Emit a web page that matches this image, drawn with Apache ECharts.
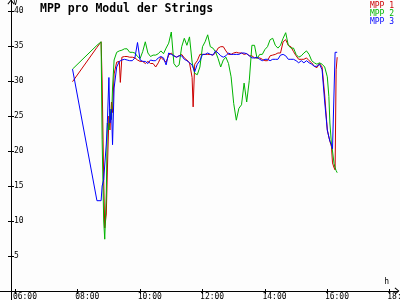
<!DOCTYPE html>
<html>
<head>
<meta charset="utf-8">
<script src="https://cdn.jsdelivr.net/npm/echarts@6/dist/echarts.min.js"></script>
<style>
html,body{margin:0;padding:0;background:#fdfdfd;}
#chart{width:400px;height:300px;}
</style>
</head>
<body>
<div id="chart"></div>
<script>
const times = ["07:50","08:37","08:45","08:47","08:50","08:52","08:55","08:57","09:00","09:02","09:05","09:07","09:10","09:15","09:20","09:22","09:25","09:30","09:35","09:40","09:45","09:50","09:55","10:00","10:05","10:10","10:15","10:20","10:25","10:30","10:35","10:40","10:45","10:50","10:55","11:00","11:05","11:10","11:15","11:20","11:25","11:30","11:35","11:40","11:42","11:45","11:50","11:55","12:00","12:05","12:10","12:15","12:20","12:25","12:30","12:35","12:40","12:45","12:50","12:55","13:00","13:05","13:10","13:15","13:20","13:25","13:30","13:35","13:40","13:45","13:50","13:55","14:00","14:05","14:10","14:15","14:20","14:25","14:30","14:35","14:40","14:45","14:50","14:55","15:00","15:05","15:10","15:15","15:20","15:25","15:30","15:35","15:40","15:45","15:50","15:55","16:00","16:03","16:05","16:08","16:10","16:13","16:15","16:17","16:19"];
const mpp1 = [29.9,34.8,35.6,30.0,16.0,9.0,11.0,17.0,25.0,23.0,27.0,25.5,31.0,32.7,32.8,29.8,33.4,33.5,33.5,33.4,33.4,33.3,33.0,32.8,32.8,32.5,32.8,32.5,32.5,32.0,32.6,33.4,33.0,32.7,33.7,34.0,33.6,33.4,33.6,33.8,33.3,33.0,32.6,30.5,26.3,32.4,32.9,33.8,33.8,33.8,33.8,33.8,33.7,34.0,34.7,34.9,34.9,34.3,33.8,33.8,34.0,34.1,34.0,34.0,33.8,33.9,33.6,33.6,33.3,33.3,33.3,33.1,32.9,32.9,33.6,33.7,33.8,34.0,34.0,35.6,35.9,35.1,34.9,34.2,33.6,33.1,33.1,33.1,33.3,32.9,32.6,32.1,31.9,32.5,32.0,28.0,23.0,22.0,21.4,20.6,18.3,17.6,17.3,31.6,33.4];
const mpp2 = [31.7,35.1,35.6,21.6,10.0,7.4,14.0,24.0,23.0,26.0,24.5,29.0,33.0,34.1,34.3,34.4,34.4,34.6,34.6,34.1,34.1,34.0,33.5,33.2,34.2,35.6,34.0,33.5,33.7,33.7,33.9,34.3,33.9,34.7,35.4,37.0,32.5,32.0,32.3,34.9,36.1,35.1,36.3,32.7,32.0,31.1,30.9,32.0,34.9,35.6,36.6,34.9,34.7,34.2,33.2,32.0,33.0,33.4,32.5,30.6,26.8,24.4,26.1,26.6,29.7,27.0,30.1,35.1,35.1,33.2,33.8,33.8,34.5,34.9,35.9,36.1,35.1,34.7,35.1,36.1,36.9,35.1,34.7,34.7,33.8,33.4,33.6,34.0,34.3,33.8,32.9,32.6,32.4,32.6,32.4,32.0,30.6,27.8,24.0,21.0,20.0,18.2,17.6,17.2,16.9];
const mpp3 = [31.7,12.9,12.9,15.0,15.9,18.0,21.0,24.0,30.5,24.0,26.0,20.9,29.0,32.0,32.8,33.0,33.0,33.1,33.0,32.9,32.9,33.3,35.5,33.0,32.8,32.8,32.5,33.0,32.9,32.9,33.3,33.5,33.3,32.3,34.0,33.8,33.6,33.4,33.6,33.6,33.1,32.9,32.6,32.3,32.4,31.3,32.4,32.9,33.8,33.8,34.0,33.8,33.7,34.3,34.0,33.6,33.4,33.6,34.0,33.8,33.8,33.8,33.8,34.0,34.0,33.9,33.6,33.3,33.3,33.4,33.1,32.9,33.1,33.1,32.9,33.1,33.1,33.1,33.7,33.8,33.6,33.1,33.1,33.1,32.9,32.6,32.9,32.6,32.9,32.6,32.4,32.1,32.1,32.4,31.6,27.0,23.0,22.0,21.4,20.9,20.3,20.5,34.1,34.1,34.1];
const seriesNames = ["MPP 1","MPP 2","MPP 3"];
const xTickHours = [6,8,10,12,14,16,18];
const yTickValues = [5,10,15,20,25,30,35,40];

const colors = ["#cc0000","#00b400","#0000ff"];
const mono = "DejaVu Sans Mono";
const toHours = s => { const p = s.split(":").map(Number); return p[0] + p[1] / 60; };
const pairs = arr => times.map((t, i) => [toHours(t), arr[i]]);
const chevron = "path://M5,0 L10,6 L9,7 L5,2 L1,7 L0,6 Z";

const chart = echarts.init(document.getElementById("chart"), null, {renderer: "canvas"});
const xMin = 6 - 15.3 / 31.2, xMax = 6 + (398 - 15.3) / 31.2;
const yMin = -9 / 7, yMax = 291 / 7;

chart.setOption({
  backgroundColor: "#fdfdfd",
  animation: false,
  title: {
    text: "MPP pro Modul der Strings",
    left: 40, top: 3, padding: 0,
    textStyle: {fontFamily: mono, fontWeight: "bold", fontSize: 11.5, color: "#000"}
  },
  legend: {
    orient: "vertical", right: 6, top: 2, padding: 0, itemGap: 0,
    itemWidth: 0, itemHeight: 7, icon: "rect", selectedMode: false,
    textStyle: {fontFamily: mono, fontSize: 8, lineHeight: 7, padding: 0},
    data: seriesNames.map((n, i) => ({name: n, textStyle: {color: colors[i]}}))
  },
  grid: {left: 0, right: 2, top: 0, bottom: 0, containLabel: false, outerBoundsMode: "none"},
  xAxis: [{
    type: "value", min: xMin, max: xMax, position: "bottom", offset: -9,
    name: "h", nameLocation: "end", nameGap: -9,
    nameTextStyle: {fontFamily: mono, fontSize: 8, color: "#000", align: "right", verticalAlign: "bottom", padding: [0, 0, 5, 0]},
    axisLine: {show: true, onZero: false, symbol: ["none", chevron], symbolSize: [7, 5], symbolOffset: [0, -1], lineStyle: {color: "#000", width: 1}},
    axisTick: {show: true, length: 3, customValues: xTickHours, lineStyle: {color: "#000"}},
    axisLabel: {show: true, customValues: xTickHours, margin: 2, hideOverlap: false, fontFamily: mono, fontSize: 8, color: "#000",
      formatter: v => "    " + String(Math.round(v)).padStart(2, "0") + ":00"},
    splitLine: {show: false}
  }, {
    type: "value", min: xMin, max: xMax, position: "bottom", offset: -9,
    axisLine: {show: false, onZero: false},
    axisTick: {show: true, inside: true, length: 2, customValues: xTickHours, lineStyle: {color: "#000"}},
    axisLabel: {show: false}, splitLine: {show: false}
  }],
  yAxis: [{
    type: "value", min: yMin, max: yMax, position: "left", offset: -11,
    name: "V", nameLocation: "end", nameGap: -1,
    nameTextStyle: {fontFamily: mono, fontSize: 8, color: "#000", align: "left", verticalAlign: "top", padding: [0, 0, 0, 2]},
    axisLine: {show: true, onZero: false, symbol: ["none", chevron], symbolSize: [7, 5], symbolOffset: [0, -2], lineStyle: {color: "#000", width: 1}},
    axisTick: {show: true, length: 3, customValues: yTickValues, lineStyle: {color: "#000"}},
    axisLabel: {show: true, inside: true, margin: 3, customValues: yTickValues, fontFamily: mono, fontSize: 8, color: "#000"},
    splitLine: {show: false}
  }, {
    type: "value", min: yMin, max: yMax, position: "left", offset: -11,
    axisLine: {show: false, onZero: false},
    axisTick: {show: true, inside: true, length: 3, customValues: yTickValues, lineStyle: {color: "#000"}},
    axisLabel: {show: false}, splitLine: {show: false}
  }],
  series: [mpp1, mpp2, mpp3].map((arr, i) => ({
    name: seriesNames[i], type: "line", xAxisIndex: 0, yAxisIndex: 0,
    data: pairs(arr), showSymbol: false, symbol: "none",
    color: colors[i], lineStyle: {color: colors[i], width: 1}, z: 2 + i
  }))
});
</script>
</body>
</html>
